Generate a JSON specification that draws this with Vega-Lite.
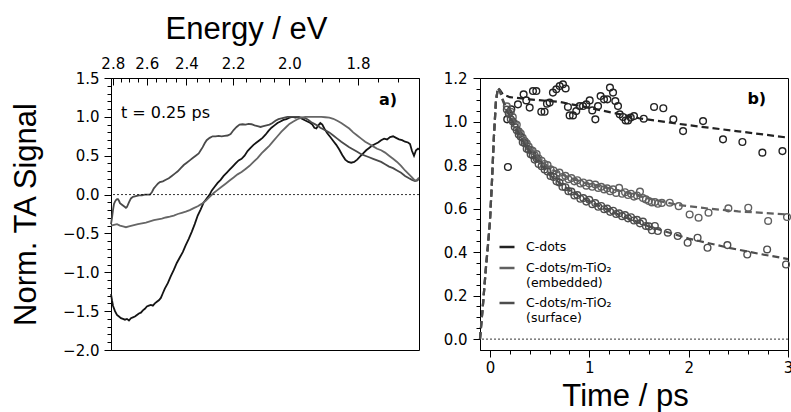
{
  "$schema": "https://vega.github.io/schema/vega-lite/v6.json",
  "padding": {"left": 10, "top": 12, "right": 0, "bottom": 0},
  "bounds": "flush",
  "spacing": 61,
  "config": {
    "font": "DejaVu Sans",
    "view": {"stroke": "#000", "strokeWidth": 1},
    "axis": {
      "grid": false,
      "domainColor": "#000",
      "tickColor": "#000",
      "labelColor": "#000",
      "titleColor": "#000",
      "labelFont": "DejaVu Sans",
      "labelFontSize": 15,
      "titleFont": "Liberation Sans",
      "titleFontSize": 31,
      "titleFontWeight": "normal",
      "labelOverlap": false,
      "labelFlush": false,
      "labelBound": false
    }
  },
  "datasets": {
    "spectra": [
      {"s": "cd", "wl": 441, "v": -1.28}, {"s": "cd", "wl": 442, "v": -1.36}, {"s": "cd", "wl": 443, "v": -1.43},
      {"s": "cd", "wl": 445, "v": -1.5}, {"s": "cd", "wl": 447, "v": -1.55}, {"s": "cd", "wl": 449, "v": -1.57},
      {"s": "cd", "wl": 451, "v": -1.59}, {"s": "cd", "wl": 453, "v": -1.6}, {"s": "cd", "wl": 455, "v": -1.61},
      {"s": "cd", "wl": 457, "v": -1.6}, {"s": "cd", "wl": 459, "v": -1.62}, {"s": "cd", "wl": 461, "v": -1.59},
      {"s": "cd", "wl": 463, "v": -1.58}, {"s": "cd", "wl": 465, "v": -1.57}, {"s": "cd", "wl": 467, "v": -1.55},
      {"s": "cd", "wl": 469, "v": -1.53}, {"s": "cd", "wl": 471, "v": -1.52}, {"s": "cd", "wl": 473, "v": -1.49},
      {"s": "cd", "wl": 475, "v": -1.47}, {"s": "cd", "wl": 477, "v": -1.44}, {"s": "cd", "wl": 479, "v": -1.43},
      {"s": "cd", "wl": 481, "v": -1.42}, {"s": "cd", "wl": 483, "v": -1.43}, {"s": "cd", "wl": 485, "v": -1.4},
      {"s": "cd", "wl": 487, "v": -1.38}, {"s": "cd", "wl": 489, "v": -1.36}, {"s": "cd", "wl": 491, "v": -1.33},
      {"s": "cd", "wl": 493, "v": -1.27}, {"s": "cd", "wl": 495, "v": -1.21}, {"s": "cd", "wl": 498, "v": -1.14},
      {"s": "cd", "wl": 501, "v": -1.05}, {"s": "cd", "wl": 504, "v": -0.97}, {"s": "cd", "wl": 507, "v": -0.88},
      {"s": "cd", "wl": 510, "v": -0.81}, {"s": "cd", "wl": 513, "v": -0.74}, {"s": "cd", "wl": 516, "v": -0.65},
      {"s": "cd", "wl": 519, "v": -0.57}, {"s": "cd", "wl": 522, "v": -0.48}, {"s": "cd", "wl": 525, "v": -0.38},
      {"s": "cd", "wl": 528, "v": -0.27}, {"s": "cd", "wl": 531, "v": -0.19}, {"s": "cd", "wl": 534, "v": -0.1},
      {"s": "cd", "wl": 537, "v": -0.05}, {"s": "cd", "wl": 540, "v": 0.0}, {"s": "cd", "wl": 542, "v": 0.05},
      {"s": "cd", "wl": 545, "v": 0.1}, {"s": "cd", "wl": 548, "v": 0.15}, {"s": "cd", "wl": 551, "v": 0.19},
      {"s": "cd", "wl": 554, "v": 0.24}, {"s": "cd", "wl": 557, "v": 0.28}, {"s": "cd", "wl": 560, "v": 0.32},
      {"s": "cd", "wl": 563, "v": 0.36}, {"s": "cd", "wl": 566, "v": 0.4}, {"s": "cd", "wl": 569, "v": 0.44},
      {"s": "cd", "wl": 572, "v": 0.46}, {"s": "cd", "wl": 575, "v": 0.5}, {"s": "cd", "wl": 578, "v": 0.56},
      {"s": "cd", "wl": 581, "v": 0.6}, {"s": "cd", "wl": 584, "v": 0.64}, {"s": "cd", "wl": 587, "v": 0.67},
      {"s": "cd", "wl": 590, "v": 0.7}, {"s": "cd", "wl": 593, "v": 0.73}, {"s": "cd", "wl": 596, "v": 0.77},
      {"s": "cd", "wl": 599, "v": 0.82}, {"s": "cd", "wl": 602, "v": 0.86}, {"s": "cd", "wl": 605, "v": 0.89},
      {"s": "cd", "wl": 608, "v": 0.92}, {"s": "cd", "wl": 611, "v": 0.94}, {"s": "cd", "wl": 614, "v": 0.96},
      {"s": "cd", "wl": 617, "v": 0.97}, {"s": "cd", "wl": 620, "v": 0.99}, {"s": "cd", "wl": 623, "v": 1.0},
      {"s": "cd", "wl": 626, "v": 0.99}, {"s": "cd", "wl": 629, "v": 1.0}, {"s": "cd", "wl": 632, "v": 0.98},
      {"s": "cd", "wl": 635, "v": 0.96}, {"s": "cd", "wl": 638, "v": 0.94}, {"s": "cd", "wl": 640, "v": 0.93},
      {"s": "cd", "wl": 643, "v": 0.9}, {"s": "cd", "wl": 645, "v": 0.86}, {"s": "cd", "wl": 647, "v": 0.85},
      {"s": "cd", "wl": 649, "v": 0.89}, {"s": "cd", "wl": 651, "v": 0.92}, {"s": "cd", "wl": 653, "v": 0.9},
      {"s": "cd", "wl": 655, "v": 0.85}, {"s": "cd", "wl": 658, "v": 0.79}, {"s": "cd", "wl": 661, "v": 0.74},
      {"s": "cd", "wl": 664, "v": 0.69}, {"s": "cd", "wl": 667, "v": 0.64}, {"s": "cd", "wl": 670, "v": 0.58},
      {"s": "cd", "wl": 673, "v": 0.51}, {"s": "cd", "wl": 676, "v": 0.45}, {"s": "cd", "wl": 679, "v": 0.42},
      {"s": "cd", "wl": 682, "v": 0.41}, {"s": "cd", "wl": 685, "v": 0.42}, {"s": "cd", "wl": 688, "v": 0.45},
      {"s": "cd", "wl": 691, "v": 0.49}, {"s": "cd", "wl": 694, "v": 0.53}, {"s": "cd", "wl": 697, "v": 0.57},
      {"s": "cd", "wl": 700, "v": 0.6}, {"s": "cd", "wl": 703, "v": 0.63}, {"s": "cd", "wl": 706, "v": 0.65},
      {"s": "cd", "wl": 709, "v": 0.67}, {"s": "cd", "wl": 712, "v": 0.7}, {"s": "cd", "wl": 715, "v": 0.72},
      {"s": "cd", "wl": 718, "v": 0.71}, {"s": "cd", "wl": 721, "v": 0.74}, {"s": "cd", "wl": 724, "v": 0.75},
      {"s": "cd", "wl": 727, "v": 0.73}, {"s": "cd", "wl": 730, "v": 0.71}, {"s": "cd", "wl": 733, "v": 0.7},
      {"s": "cd", "wl": 736, "v": 0.68}, {"s": "cd", "wl": 739, "v": 0.67}, {"s": "cd", "wl": 741, "v": 0.65},
      {"s": "cd", "wl": 743, "v": 0.56}, {"s": "cd", "wl": 745, "v": 0.5}, {"s": "cd", "wl": 747, "v": 0.57},
      {"s": "cd", "wl": 749, "v": 0.59}, {"s": "cd", "wl": 750, "v": 0.58},

      {"s": "surf", "wl": 441, "v": -0.38}, {"s": "surf", "wl": 442, "v": -0.3}, {"s": "surf", "wl": 443, "v": -0.2},
      {"s": "surf", "wl": 444, "v": -0.12}, {"s": "surf", "wl": 445, "v": -0.09}, {"s": "surf", "wl": 446, "v": -0.07},
      {"s": "surf", "wl": 447, "v": -0.06}, {"s": "surf", "wl": 448, "v": -0.06}, {"s": "surf", "wl": 449, "v": -0.08},
      {"s": "surf", "wl": 450, "v": -0.11}, {"s": "surf", "wl": 452, "v": -0.13}, {"s": "surf", "wl": 454, "v": -0.15},
      {"s": "surf", "wl": 456, "v": -0.17}, {"s": "surf", "wl": 457, "v": -0.16}, {"s": "surf", "wl": 459, "v": -0.1},
      {"s": "surf", "wl": 461, "v": -0.05}, {"s": "surf", "wl": 463, "v": -0.03}, {"s": "surf", "wl": 466, "v": -0.02},
      {"s": "surf", "wl": 469, "v": -0.01}, {"s": "surf", "wl": 472, "v": -0.01}, {"s": "surf", "wl": 475, "v": 0.0},
      {"s": "surf", "wl": 478, "v": 0.0}, {"s": "surf", "wl": 480, "v": 0.0}, {"s": "surf", "wl": 482, "v": 0.03},
      {"s": "surf", "wl": 484, "v": 0.08}, {"s": "surf", "wl": 486, "v": 0.11}, {"s": "surf", "wl": 488, "v": 0.14},
      {"s": "surf", "wl": 490, "v": 0.16}, {"s": "surf", "wl": 493, "v": 0.17}, {"s": "surf", "wl": 496, "v": 0.19},
      {"s": "surf", "wl": 499, "v": 0.21}, {"s": "surf", "wl": 502, "v": 0.24}, {"s": "surf", "wl": 505, "v": 0.27},
      {"s": "surf", "wl": 508, "v": 0.3}, {"s": "surf", "wl": 511, "v": 0.34}, {"s": "surf", "wl": 514, "v": 0.38},
      {"s": "surf", "wl": 517, "v": 0.41}, {"s": "surf", "wl": 520, "v": 0.44}, {"s": "surf", "wl": 523, "v": 0.47},
      {"s": "surf", "wl": 526, "v": 0.5}, {"s": "surf", "wl": 529, "v": 0.53}, {"s": "surf", "wl": 531, "v": 0.57},
      {"s": "surf", "wl": 533, "v": 0.61}, {"s": "surf", "wl": 535, "v": 0.66}, {"s": "surf", "wl": 537, "v": 0.7},
      {"s": "surf", "wl": 540, "v": 0.73}, {"s": "surf", "wl": 543, "v": 0.75}, {"s": "surf", "wl": 546, "v": 0.75},
      {"s": "surf", "wl": 549, "v": 0.755}, {"s": "surf", "wl": 552, "v": 0.75}, {"s": "surf", "wl": 555, "v": 0.755},
      {"s": "surf", "wl": 558, "v": 0.76}, {"s": "surf", "wl": 561, "v": 0.78}, {"s": "surf", "wl": 564, "v": 0.83},
      {"s": "surf", "wl": 567, "v": 0.87}, {"s": "surf", "wl": 570, "v": 0.9}, {"s": "surf", "wl": 573, "v": 0.905},
      {"s": "surf", "wl": 576, "v": 0.9}, {"s": "surf", "wl": 579, "v": 0.91}, {"s": "surf", "wl": 582, "v": 0.905},
      {"s": "surf", "wl": 585, "v": 0.89}, {"s": "surf", "wl": 588, "v": 0.88}, {"s": "surf", "wl": 591, "v": 0.87},
      {"s": "surf", "wl": 594, "v": 0.88}, {"s": "surf", "wl": 597, "v": 0.89}, {"s": "surf", "wl": 600, "v": 0.9},
      {"s": "surf", "wl": 603, "v": 0.92}, {"s": "surf", "wl": 606, "v": 0.95}, {"s": "surf", "wl": 609, "v": 0.97},
      {"s": "surf", "wl": 612, "v": 0.98}, {"s": "surf", "wl": 615, "v": 0.99}, {"s": "surf", "wl": 618, "v": 1.0},
      {"s": "surf", "wl": 621, "v": 1.0}, {"s": "surf", "wl": 624, "v": 1.0}, {"s": "surf", "wl": 627, "v": 1.0},
      {"s": "surf", "wl": 630, "v": 0.995}, {"s": "surf", "wl": 633, "v": 0.99}, {"s": "surf", "wl": 636, "v": 0.985},
      {"s": "surf", "wl": 639, "v": 0.96}, {"s": "surf", "wl": 642, "v": 0.93}, {"s": "surf", "wl": 645, "v": 0.91},
      {"s": "surf", "wl": 648, "v": 0.89}, {"s": "surf", "wl": 651, "v": 0.86}, {"s": "surf", "wl": 654, "v": 0.84},
      {"s": "surf", "wl": 657, "v": 0.82}, {"s": "surf", "wl": 660, "v": 0.8}, {"s": "surf", "wl": 664, "v": 0.76},
      {"s": "surf", "wl": 668, "v": 0.72}, {"s": "surf", "wl": 672, "v": 0.68}, {"s": "surf", "wl": 676, "v": 0.645},
      {"s": "surf", "wl": 680, "v": 0.61}, {"s": "surf", "wl": 684, "v": 0.58}, {"s": "surf", "wl": 688, "v": 0.55},
      {"s": "surf", "wl": 692, "v": 0.52}, {"s": "surf", "wl": 696, "v": 0.5}, {"s": "surf", "wl": 700, "v": 0.48},
      {"s": "surf", "wl": 704, "v": 0.46}, {"s": "surf", "wl": 708, "v": 0.44}, {"s": "surf", "wl": 712, "v": 0.42},
      {"s": "surf", "wl": 716, "v": 0.39}, {"s": "surf", "wl": 720, "v": 0.36}, {"s": "surf", "wl": 724, "v": 0.34},
      {"s": "surf", "wl": 728, "v": 0.31}, {"s": "surf", "wl": 732, "v": 0.28}, {"s": "surf", "wl": 736, "v": 0.24},
      {"s": "surf", "wl": 740, "v": 0.21}, {"s": "surf", "wl": 743, "v": 0.19}, {"s": "surf", "wl": 746, "v": 0.175},
      {"s": "surf", "wl": 748, "v": 0.18}, {"s": "surf", "wl": 750, "v": 0.2},

      {"s": "emb", "wl": 441, "v": -0.4}, {"s": "emb", "wl": 444, "v": -0.39}, {"s": "emb", "wl": 447, "v": -0.38},
      {"s": "emb", "wl": 450, "v": -0.4}, {"s": "emb", "wl": 453, "v": -0.41}, {"s": "emb", "wl": 456, "v": -0.42},
      {"s": "emb", "wl": 459, "v": -0.41}, {"s": "emb", "wl": 462, "v": -0.4}, {"s": "emb", "wl": 465, "v": -0.39},
      {"s": "emb", "wl": 468, "v": -0.38}, {"s": "emb", "wl": 472, "v": -0.37}, {"s": "emb", "wl": 476, "v": -0.36},
      {"s": "emb", "wl": 480, "v": -0.345}, {"s": "emb", "wl": 484, "v": -0.33}, {"s": "emb", "wl": 488, "v": -0.32},
      {"s": "emb", "wl": 492, "v": -0.31}, {"s": "emb", "wl": 496, "v": -0.295}, {"s": "emb", "wl": 500, "v": -0.285},
      {"s": "emb", "wl": 504, "v": -0.27}, {"s": "emb", "wl": 508, "v": -0.25}, {"s": "emb", "wl": 512, "v": -0.235},
      {"s": "emb", "wl": 516, "v": -0.22}, {"s": "emb", "wl": 520, "v": -0.2}, {"s": "emb", "wl": 524, "v": -0.175},
      {"s": "emb", "wl": 528, "v": -0.15}, {"s": "emb", "wl": 532, "v": -0.12}, {"s": "emb", "wl": 536, "v": -0.08},
      {"s": "emb", "wl": 540, "v": -0.03}, {"s": "emb", "wl": 544, "v": 0.02}, {"s": "emb", "wl": 548, "v": 0.06},
      {"s": "emb", "wl": 552, "v": 0.1}, {"s": "emb", "wl": 556, "v": 0.14}, {"s": "emb", "wl": 560, "v": 0.18},
      {"s": "emb", "wl": 564, "v": 0.22}, {"s": "emb", "wl": 568, "v": 0.26}, {"s": "emb", "wl": 572, "v": 0.29},
      {"s": "emb", "wl": 576, "v": 0.33}, {"s": "emb", "wl": 580, "v": 0.37}, {"s": "emb", "wl": 584, "v": 0.42},
      {"s": "emb", "wl": 588, "v": 0.47}, {"s": "emb", "wl": 592, "v": 0.53}, {"s": "emb", "wl": 596, "v": 0.58},
      {"s": "emb", "wl": 600, "v": 0.63}, {"s": "emb", "wl": 604, "v": 0.69}, {"s": "emb", "wl": 608, "v": 0.75},
      {"s": "emb", "wl": 612, "v": 0.81}, {"s": "emb", "wl": 616, "v": 0.86}, {"s": "emb", "wl": 620, "v": 0.91},
      {"s": "emb", "wl": 624, "v": 0.94}, {"s": "emb", "wl": 628, "v": 0.97}, {"s": "emb", "wl": 632, "v": 0.99},
      {"s": "emb", "wl": 636, "v": 1.0}, {"s": "emb", "wl": 640, "v": 1.0}, {"s": "emb", "wl": 644, "v": 1.0},
      {"s": "emb", "wl": 648, "v": 1.0}, {"s": "emb", "wl": 652, "v": 1.0}, {"s": "emb", "wl": 656, "v": 0.995},
      {"s": "emb", "wl": 660, "v": 0.99}, {"s": "emb", "wl": 664, "v": 0.975}, {"s": "emb", "wl": 668, "v": 0.95},
      {"s": "emb", "wl": 672, "v": 0.92}, {"s": "emb", "wl": 676, "v": 0.885}, {"s": "emb", "wl": 680, "v": 0.85},
      {"s": "emb", "wl": 684, "v": 0.8}, {"s": "emb", "wl": 688, "v": 0.76}, {"s": "emb", "wl": 692, "v": 0.72},
      {"s": "emb", "wl": 696, "v": 0.68}, {"s": "emb", "wl": 700, "v": 0.65}, {"s": "emb", "wl": 704, "v": 0.62},
      {"s": "emb", "wl": 708, "v": 0.59}, {"s": "emb", "wl": 712, "v": 0.57}, {"s": "emb", "wl": 716, "v": 0.54},
      {"s": "emb", "wl": 720, "v": 0.5}, {"s": "emb", "wl": 724, "v": 0.46}, {"s": "emb", "wl": 728, "v": 0.42},
      {"s": "emb", "wl": 732, "v": 0.37}, {"s": "emb", "wl": 736, "v": 0.31}, {"s": "emb", "wl": 740, "v": 0.26},
      {"s": "emb", "wl": 743, "v": 0.22}, {"s": "emb", "wl": 746, "v": 0.18}, {"s": "emb", "wl": 748, "v": 0.19},
      {"s": "emb", "wl": 750, "v": 0.22}
    ],
    "kinetics": [
      {"s": "cd", "t": 0.174, "v": 1.01}, {"s": "cd", "t": 0.181, "v": 0.791}, {"s": "cd", "t": 0.215, "v": 1.056},
      {"s": "cd", "t": 0.282, "v": 1.079}, {"s": "cd", "t": 0.339, "v": 1.125}, {"s": "cd", "t": 0.366, "v": 1.097},
      {"s": "cd", "t": 0.4, "v": 1.064}, {"s": "cd", "t": 0.433, "v": 1.14}, {"s": "cd", "t": 0.467, "v": 1.14},
      {"s": "cd", "t": 0.517, "v": 1.045}, {"s": "cd", "t": 0.55, "v": 1.045}, {"s": "cd", "t": 0.574, "v": 1.082},
      {"s": "cd", "t": 0.601, "v": 1.087}, {"s": "cd", "t": 0.634, "v": 1.133}, {"s": "cd", "t": 0.668, "v": 1.148},
      {"s": "cd", "t": 0.702, "v": 1.163}, {"s": "cd", "t": 0.735, "v": 1.171}, {"s": "cd", "t": 0.762, "v": 1.152},
      {"s": "cd", "t": 0.785, "v": 1.067}, {"s": "cd", "t": 0.802, "v": 1.028}, {"s": "cd", "t": 0.836, "v": 1.028},
      {"s": "cd", "t": 0.869, "v": 1.048}, {"s": "cd", "t": 0.903, "v": 1.071}, {"s": "cd", "t": 0.937, "v": 1.071},
      {"s": "cd", "t": 0.97, "v": 1.079}, {"s": "cd", "t": 1.004, "v": 1.097}, {"s": "cd", "t": 1.03, "v": 1.051},
      {"s": "cd", "t": 1.061, "v": 1.01}, {"s": "cd", "t": 1.088, "v": 1.071}, {"s": "cd", "t": 1.114, "v": 1.117},
      {"s": "cd", "t": 1.148, "v": 1.102}, {"s": "cd", "t": 1.182, "v": 1.102}, {"s": "cd", "t": 1.208, "v": 1.156},
      {"s": "cd", "t": 1.239, "v": 1.133}, {"s": "cd", "t": 1.262, "v": 1.094}, {"s": "cd", "t": 1.289, "v": 1.071},
      {"s": "cd", "t": 1.306, "v": 1.033}, {"s": "cd", "t": 1.339, "v": 1.021}, {"s": "cd", "t": 1.366, "v": 1.005},
      {"s": "cd", "t": 1.39, "v": 1.005}, {"s": "cd", "t": 1.417, "v": 1.018}, {"s": "cd", "t": 1.45, "v": 1.025},
      {"s": "cd", "t": 1.548, "v": 1.013}, {"s": "cd", "t": 1.652, "v": 1.067}, {"s": "cd", "t": 1.745, "v": 1.061},
      {"s": "cd", "t": 1.846, "v": 1.01}, {"s": "cd", "t": 1.944, "v": 0.956}, {"s": "cd", "t": 2.145, "v": 1.002},
      {"s": "cd", "t": 2.346, "v": 0.918}, {"s": "cd", "t": 2.541, "v": 0.906}, {"s": "cd", "t": 2.742, "v": 0.857},
      {"s": "cd", "t": 2.944, "v": 0.864},

      {"s": "emb", "t": 0.17, "v": 1.07}, {"s": "emb", "t": 0.19, "v": 1.04}, {"s": "emb", "t": 0.21, "v": 1.045},
      {"s": "emb", "t": 0.23, "v": 1.02}, {"s": "emb", "t": 0.25, "v": 0.99}, {"s": "emb", "t": 0.27, "v": 0.985},
      {"s": "emb", "t": 0.29, "v": 0.955}, {"s": "emb", "t": 0.31, "v": 0.945}, {"s": "emb", "t": 0.33, "v": 0.925},
      {"s": "emb", "t": 0.35, "v": 0.91}, {"s": "emb", "t": 0.37, "v": 0.9}, {"s": "emb", "t": 0.39, "v": 0.885},
      {"s": "emb", "t": 0.41, "v": 0.87}, {"s": "emb", "t": 0.43, "v": 0.865}, {"s": "emb", "t": 0.45, "v": 0.845},
      {"s": "emb", "t": 0.47, "v": 0.85}, {"s": "emb", "t": 0.49, "v": 0.83}, {"s": "emb", "t": 0.52, "v": 0.82},
      {"s": "emb", "t": 0.55, "v": 0.805}, {"s": "emb", "t": 0.58, "v": 0.8}, {"s": "emb", "t": 0.61, "v": 0.78},
      {"s": "emb", "t": 0.64, "v": 0.775}, {"s": "emb", "t": 0.67, "v": 0.76}, {"s": "emb", "t": 0.7, "v": 0.765},
      {"s": "emb", "t": 0.73, "v": 0.745}, {"s": "emb", "t": 0.76, "v": 0.75}, {"s": "emb", "t": 0.79, "v": 0.735},
      {"s": "emb", "t": 0.82, "v": 0.74}, {"s": "emb", "t": 0.85, "v": 0.725}, {"s": "emb", "t": 0.88, "v": 0.73},
      {"s": "emb", "t": 0.91, "v": 0.715}, {"s": "emb", "t": 0.94, "v": 0.72}, {"s": "emb", "t": 0.97, "v": 0.705},
      {"s": "emb", "t": 1.0, "v": 0.715}, {"s": "emb", "t": 1.03, "v": 0.7}, {"s": "emb", "t": 1.06, "v": 0.71},
      {"s": "emb", "t": 1.09, "v": 0.695}, {"s": "emb", "t": 1.12, "v": 0.7}, {"s": "emb", "t": 1.15, "v": 0.688},
      {"s": "emb", "t": 1.18, "v": 0.693}, {"s": "emb", "t": 1.21, "v": 0.68}, {"s": "emb", "t": 1.24, "v": 0.688},
      {"s": "emb", "t": 1.27, "v": 0.672}, {"s": "emb", "t": 1.3, "v": 0.695}, {"s": "emb", "t": 1.33, "v": 0.668},
      {"s": "emb", "t": 1.36, "v": 0.675}, {"s": "emb", "t": 1.39, "v": 0.662}, {"s": "emb", "t": 1.42, "v": 0.668},
      {"s": "emb", "t": 1.45, "v": 0.655}, {"s": "emb", "t": 1.48, "v": 0.66}, {"s": "emb", "t": 1.51, "v": 0.678},
      {"s": "emb", "t": 1.54, "v": 0.648}, {"s": "emb", "t": 1.57, "v": 0.642}, {"s": "emb", "t": 1.6, "v": 0.635},
      {"s": "emb", "t": 1.63, "v": 0.628}, {"s": "emb", "t": 1.66, "v": 0.63}, {"s": "emb", "t": 1.69, "v": 0.622},
      {"s": "emb", "t": 1.73, "v": 0.626}, {"s": "emb", "t": 1.81, "v": 0.627}, {"s": "emb", "t": 1.9, "v": 0.611},
      {"s": "emb", "t": 2.01, "v": 0.573}, {"s": "emb", "t": 2.1, "v": 0.558}, {"s": "emb", "t": 2.2, "v": 0.581},
      {"s": "emb", "t": 2.4, "v": 0.601}, {"s": "emb", "t": 2.6, "v": 0.604}, {"s": "emb", "t": 2.8, "v": 0.543},
      {"s": "emb", "t": 2.99, "v": 0.561},

      {"s": "surf", "t": 0.17, "v": 1.055}, {"s": "surf", "t": 0.19, "v": 1.035}, {"s": "surf", "t": 0.21, "v": 1.01},
      {"s": "surf", "t": 0.23, "v": 1.0}, {"s": "surf", "t": 0.25, "v": 0.975}, {"s": "surf", "t": 0.27, "v": 0.96},
      {"s": "surf", "t": 0.29, "v": 0.94}, {"s": "surf", "t": 0.31, "v": 0.93}, {"s": "surf", "t": 0.33, "v": 0.905},
      {"s": "surf", "t": 0.35, "v": 0.9}, {"s": "surf", "t": 0.37, "v": 0.875}, {"s": "surf", "t": 0.39, "v": 0.87},
      {"s": "surf", "t": 0.41, "v": 0.85}, {"s": "surf", "t": 0.43, "v": 0.845}, {"s": "surf", "t": 0.45, "v": 0.825},
      {"s": "surf", "t": 0.47, "v": 0.83}, {"s": "surf", "t": 0.49, "v": 0.805}, {"s": "surf", "t": 0.52, "v": 0.795},
      {"s": "surf", "t": 0.55, "v": 0.78}, {"s": "surf", "t": 0.58, "v": 0.77}, {"s": "surf", "t": 0.61, "v": 0.75},
      {"s": "surf", "t": 0.64, "v": 0.745}, {"s": "surf", "t": 0.67, "v": 0.725}, {"s": "surf", "t": 0.7, "v": 0.72},
      {"s": "surf", "t": 0.73, "v": 0.7}, {"s": "surf", "t": 0.76, "v": 0.698}, {"s": "surf", "t": 0.79, "v": 0.68},
      {"s": "surf", "t": 0.82, "v": 0.678}, {"s": "surf", "t": 0.85, "v": 0.66}, {"s": "surf", "t": 0.88, "v": 0.662},
      {"s": "surf", "t": 0.91, "v": 0.645}, {"s": "surf", "t": 0.94, "v": 0.648}, {"s": "surf", "t": 0.97, "v": 0.632},
      {"s": "surf", "t": 1.0, "v": 0.64}, {"s": "surf", "t": 1.03, "v": 0.62}, {"s": "surf", "t": 1.06, "v": 0.625},
      {"s": "surf", "t": 1.09, "v": 0.608}, {"s": "surf", "t": 1.12, "v": 0.612}, {"s": "surf", "t": 1.15, "v": 0.597},
      {"s": "surf", "t": 1.18, "v": 0.6}, {"s": "surf", "t": 1.21, "v": 0.585}, {"s": "surf", "t": 1.24, "v": 0.59},
      {"s": "surf", "t": 1.27, "v": 0.575}, {"s": "surf", "t": 1.3, "v": 0.578}, {"s": "surf", "t": 1.33, "v": 0.565},
      {"s": "surf", "t": 1.36, "v": 0.57}, {"s": "surf", "t": 1.39, "v": 0.555}, {"s": "surf", "t": 1.42, "v": 0.56},
      {"s": "surf", "t": 1.45, "v": 0.545}, {"s": "surf", "t": 1.48, "v": 0.548}, {"s": "surf", "t": 1.51, "v": 0.532},
      {"s": "surf", "t": 1.54, "v": 0.54}, {"s": "surf", "t": 1.57, "v": 0.52}, {"s": "surf", "t": 1.6, "v": 0.518},
      {"s": "surf", "t": 1.63, "v": 0.5}, {"s": "surf", "t": 1.66, "v": 0.52}, {"s": "surf", "t": 1.69, "v": 0.497},
      {"s": "surf", "t": 1.79, "v": 0.489}, {"s": "surf", "t": 1.89, "v": 0.474}, {"s": "surf", "t": 1.99, "v": 0.443},
      {"s": "surf", "t": 2.09, "v": 0.466}, {"s": "surf", "t": 2.19, "v": 0.42}, {"s": "surf", "t": 2.39, "v": 0.432},
      {"s": "surf", "t": 2.59, "v": 0.389}, {"s": "surf", "t": 2.79, "v": 0.412}, {"s": "surf", "t": 2.98, "v": 0.343}
    ],
    "fits": [
      {"s": "cd", "t": -0.1, "v": 0}, {"s": "cd", "t": -0.07, "v": 0.16}, {"s": "cd", "t": -0.04, "v": 0.33},
      {"s": "cd", "t": -0.02, "v": 0.43}, {"s": "cd", "t": 0, "v": 0.54}, {"s": "cd", "t": 0.02, "v": 0.72},
      {"s": "cd", "t": 0.04, "v": 0.93}, {"s": "cd", "t": 0.06, "v": 1.09}, {"s": "cd", "t": 0.08, "v": 1.155},
      {"s": "cd", "t": 0.1, "v": 1.145}, {"s": "cd", "t": 0.13, "v": 1.125}, {"s": "cd", "t": 0.2, "v": 1.112},
      {"s": "cd", "t": 0.4, "v": 1.102}, {"s": "cd", "t": 0.7, "v": 1.09}, {"s": "cd", "t": 1.0, "v": 1.063},
      {"s": "cd", "t": 1.5, "v": 1.015}, {"s": "cd", "t": 2.0, "v": 0.983}, {"s": "cd", "t": 2.5, "v": 0.955},
      {"s": "cd", "t": 3.0, "v": 0.926},
      {"s": "emb", "t": -0.1, "v": 0}, {"s": "emb", "t": -0.07, "v": 0.16}, {"s": "emb", "t": -0.04, "v": 0.33},
      {"s": "emb", "t": -0.02, "v": 0.43}, {"s": "emb", "t": 0, "v": 0.54}, {"s": "emb", "t": 0.02, "v": 0.72},
      {"s": "emb", "t": 0.04, "v": 0.93}, {"s": "emb", "t": 0.06, "v": 1.09}, {"s": "emb", "t": 0.08, "v": 1.155},
      {"s": "emb", "t": 0.1, "v": 1.14}, {"s": "emb", "t": 0.13, "v": 1.1}, {"s": "emb", "t": 0.17, "v": 1.06},
      {"s": "emb", "t": 0.25, "v": 0.995}, {"s": "emb", "t": 0.35, "v": 0.91}, {"s": "emb", "t": 0.45, "v": 0.852},
      {"s": "emb", "t": 0.6, "v": 0.785}, {"s": "emb", "t": 0.8, "v": 0.74}, {"s": "emb", "t": 1.0, "v": 0.712},
      {"s": "emb", "t": 1.3, "v": 0.683}, {"s": "emb", "t": 1.6, "v": 0.645}, {"s": "emb", "t": 1.9, "v": 0.616},
      {"s": "emb", "t": 2.2, "v": 0.6}, {"s": "emb", "t": 2.5, "v": 0.587}, {"s": "emb", "t": 3.0, "v": 0.573},
      {"s": "surf", "t": -0.1, "v": 0}, {"s": "surf", "t": -0.07, "v": 0.16}, {"s": "surf", "t": -0.04, "v": 0.33},
      {"s": "surf", "t": -0.02, "v": 0.43}, {"s": "surf", "t": 0, "v": 0.54}, {"s": "surf", "t": 0.02, "v": 0.72},
      {"s": "surf", "t": 0.04, "v": 0.93}, {"s": "surf", "t": 0.06, "v": 1.09}, {"s": "surf", "t": 0.08, "v": 1.155},
      {"s": "surf", "t": 0.1, "v": 1.14}, {"s": "surf", "t": 0.13, "v": 1.095}, {"s": "surf", "t": 0.17, "v": 1.05},
      {"s": "surf", "t": 0.25, "v": 0.98}, {"s": "surf", "t": 0.35, "v": 0.895}, {"s": "surf", "t": 0.45, "v": 0.832},
      {"s": "surf", "t": 0.6, "v": 0.755}, {"s": "surf", "t": 0.8, "v": 0.683}, {"s": "surf", "t": 1.0, "v": 0.632},
      {"s": "surf", "t": 1.3, "v": 0.572}, {"s": "surf", "t": 1.6, "v": 0.518}, {"s": "surf", "t": 2.0, "v": 0.462},
      {"s": "surf", "t": 2.4, "v": 0.42}, {"s": "surf", "t": 2.7, "v": 0.393}, {"s": "surf", "t": 3.0, "v": 0.368}
    ]
  },
  "hconcat": [
    {
      "width": 308,
      "height": 272,
      "layer": [
        {
          "layer": [
            {
              "data": {"name": "spectra"},
              "mark": {"type": "line", "strokeWidth": 1.8},
              "encoding": {
                "x": {
                  "field": "wl", "type": "quantitative",
                  "scale": {"domain": [441, 750], "nice": false, "zero": false},
                  "axis": {
                    "orient": "bottom", "title": "Wavelength / nm", "titleX": 142, "titlePadding": 6,
                    "values": [460, 480, 500, 520, 540, 560, 580, 600, 620, 640, 660, 680, 700, 720, 740],
                    "labelExpr": "datum.value % 100 === 0 ? datum.label : ''",
                    "tickSize": {"condition": {"test": "datum.value % 100 === 0", "value": 8}, "value": 4},
                    "labelPadding": 3
                  }
                },
                "y": {
                  "field": "v", "type": "quantitative",
                  "scale": {"domain": [-2, 1.5], "nice": false, "zero": false},
                  "axis": {
                    "orient": "left", "title": "Norm. TA Signal", "titlePadding": 20,
                    "values": [-2, -1.9, -1.8, -1.7, -1.6, -1.5, -1.4, -1.3, -1.2, -1.1, -1, -0.9, -0.8, -0.7, -0.6, -0.5, -0.4, -0.3, -0.2, -0.1, 0, 0.1, 0.2, 0.3, 0.4, 0.5, 0.6, 0.7, 0.8, 0.9, 1, 1.1, 1.2, 1.3, 1.4, 1.5],
                    "labelExpr": "abs(datum.value * 2 - round(datum.value * 2)) < 0.01 ? format(datum.value, '.1f') : ''",
                    "tickSize": {"condition": {"test": "abs(datum.value * 2 - round(datum.value * 2)) < 0.01", "value": 7}, "value": 4},
                    "labelPadding": 5
                  }
                },
                "color": {
                  "field": "s", "type": "nominal",
                  "scale": {"domain": ["cd", "emb", "surf"], "range": ["#141414", "#666666", "#4a4a4a"]},
                  "legend": null
                }
              }
            },
            {
              "data": {"values": [{}]},
              "mark": {"type": "rule", "color": "#000", "strokeWidth": 0.8, "strokeDash": [2, 2]},
              "encoding": {
                "y": {
                  "datum": 0, "type": "quantitative",
                  "scale": {"domain": [-2, 1.5], "nice": false, "zero": false},
                  "axis": null
                }
              }
            },
            {
              "data": {"values": [{}]},
              "mark": {"type": "text", "align": "left", "baseline": "middle", "fontSize": 16, "font": "DejaVu Sans", "color": "#000"},
              "encoding": {
                "x": {"datum": 451, "type": "quantitative", "axis": null},
                "y": {"datum": 1.056, "type": "quantitative", "axis": null},
                "text": {"value": "t = 0.25 ps"}
              }
            },
            {
              "data": {"values": [{}]},
              "mark": {"type": "text", "align": "right", "baseline": "middle", "fontSize": 16, "fontWeight": "bold", "font": "DejaVu Sans", "color": "#000"},
              "encoding": {
                "x": {"datum": 728, "type": "quantitative", "axis": null},
                "y": {"datum": 1.217, "type": "quantitative", "axis": null},
                "text": {"value": "a)"}
              }
            }
          ],
          "resolve": {"axis": {"y": "independent"}}
        },
        {
          "data": {"values": [{"eV": 2.8}, {"eV": 1.8}]},
          "mark": {"type": "point", "opacity": 0},
          "encoding": {
            "x": {
              "field": "eV", "type": "quantitative",
              "scale": {"type": "pow", "exponent": -1, "domain": [2.81143, 1.65312], "nice": false, "zero": false},
              "axis": {
                "orient": "top", "title": "Energy / eV", "titleX": 135, "titlePadding": 8,
                "values": [2.8, 2.75, 2.7, 2.65, 2.6, 2.55, 2.5, 2.45, 2.4, 2.35, 2.3, 2.25, 2.2, 2.15, 2.1, 2.05, 2, 1.95, 1.9, 1.85, 1.8, 1.75, 1.7],
                "labelExpr": "abs(datum.value * 5 - round(datum.value * 5)) < 0.01 ? format(datum.value, '.1f') : ''",
                "tickSize": {"condition": {"test": "abs(datum.value * 5 - round(datum.value * 5)) < 0.01", "value": -7}, "value": -4},
                "labelPadding": 14
              }
            }
          }
        }
      ],
      "resolve": {"scale": {"x": "independent"}, "axis": {"x": "independent"}}
    },
    {
      "width": 308,
      "height": 272,
      "layer": [
        {
          "data": {"name": "kinetics"},
          "mark": {"type": "point", "filled": false, "size": 45, "strokeWidth": 1.4, "opacity": 1},
          "encoding": {
            "x": {
              "field": "t", "type": "quantitative",
              "scale": {"domain": [-0.1, 3], "nice": false, "zero": false},
              "axis": {
                "orient": "bottom", "title": "Time / ps", "titleX": 145, "titlePadding": 6,
                "values": [0, 0.2, 0.4, 0.6, 0.8, 1, 1.2, 1.4, 1.6, 1.8, 2, 2.2, 2.4, 2.6, 2.8, 3],
                "labelExpr": "abs(datum.value - round(datum.value)) < 0.01 ? format(datum.value, 'd') : ''",
                "tickSize": {"condition": {"test": "abs(datum.value - round(datum.value)) < 0.01", "value": 7}, "value": 4},
                "labelPadding": 3
              }
            },
            "y": {
              "field": "v", "type": "quantitative",
              "scale": {"domain": [-0.05, 1.2], "nice": false, "zero": false},
              "axis": {
                "orient": "left", "title": null,
                "values": [0, 0.05, 0.1, 0.15, 0.2, 0.25, 0.3, 0.35, 0.4, 0.45, 0.5, 0.55, 0.6, 0.65, 0.7, 0.75, 0.8, 0.85, 0.9, 0.95, 1, 1.05, 1.1, 1.15, 1.2],
                "labelExpr": "abs(datum.value * 5 - round(datum.value * 5)) < 0.01 ? format(datum.value, '.1f') : ''",
                "tickSize": {"condition": {"test": "abs(datum.value * 5 - round(datum.value * 5)) < 0.01", "value": 7}, "value": 4},
                "labelPadding": 6
              }
            },
            "color": {
              "field": "s", "type": "nominal",
              "scale": {"domain": ["cd", "emb", "surf"], "range": ["#222222", "#606060", "#4d4d4d"]},
              "legend": {
                "orient": "none", "legendX": 18, "legendY": 160, "title": null,
                "symbolType": "stroke", "symbolSize": 225, "symbolStrokeWidth": 2.5, "symbolOpacity": 1,
                "labelFont": "DejaVu Sans", "labelFontSize": 12.5, "labelColor": "#000", "labelOffset": 10,
                "rowPadding": 5,
                "labelExpr": "datum.value === 'cd' ? 'C-dots' : datum.value === 'emb' ? ['C-dots/m-TiO₂', '(embedded)'] : ['C-dots/m-TiO₂', '(surface)']"
              }
            }
          }
        },
        {
          "data": {"name": "fits"},
          "mark": {"type": "line", "strokeWidth": 2.2, "strokeDash": [7, 4]},
          "encoding": {
            "x": {"field": "t", "type": "quantitative", "axis": null},
            "y": {"field": "v", "type": "quantitative", "axis": null},
            "color": {"field": "s", "type": "nominal", "legend": null}
          }
        },
        {
          "data": {"values": [{}]},
          "mark": {"type": "rule", "color": "#000", "strokeWidth": 0.8, "strokeDash": [2, 2]},
          "encoding": {
            "y": {"datum": 0, "type": "quantitative", "axis": null}
          }
        },
        {
          "data": {"values": [{}]},
          "mark": {"type": "text", "align": "right", "baseline": "middle", "fontSize": 16, "fontWeight": "bold", "font": "DejaVu Sans", "color": "#000"},
          "encoding": {
            "x": {"datum": 2.78, "type": "quantitative", "axis": null},
            "y": {"datum": 1.103, "type": "quantitative", "axis": null},
            "text": {"value": "b)"}
          }
        }
      ],
      "resolve": {"axis": {"x": "independent", "y": "independent"}}
    }
  ],
  "resolve": {"scale": {"color": "independent"}}
}
